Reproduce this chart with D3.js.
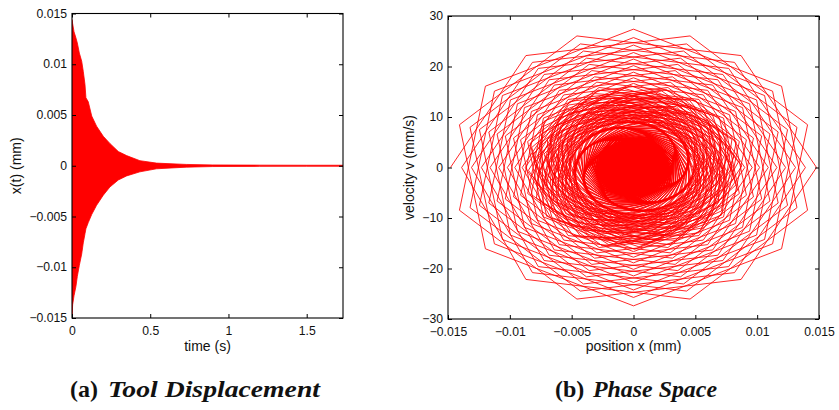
<!DOCTYPE html>
<html><head><meta charset="utf-8">
<script src="https://cdn.jsdelivr.net/npm/d3@7"></script>
<style>body{margin:0;background:#fff}svg{display:block}</style>
</head><body>
<svg id="c" width="839" height="410"></svg>
<script>
// ---------- (a) Tool displacement : envelope of the dense oscillation
const timeS   = [0, 0.004, 0.013, 0.025, 0.034, 0.047, 0.062, 0.072, 0.083, 0.089, 0.104, 0.126, 0.157, 0.2, 0.242, 0.296, 0.349, 0.434, 0.54, 0.73, 0.9, 1.2, 1.5, 1.732];
const upperMm = [0.0144, 0.0140, 0.0132, 0.0126, 0.0121, 0.0111, 0.0103, 0.0093, 0.0080, 0.0067, 0.0063, 0.0049, 0.0039, 0.0029, 0.0022, 0.0014, 0.0010, 0.0005, 0.00026, 0.00013, 0.00008, 0.00006, 0.00005, 0.00005];
const lowerMm = [-0.0150, -0.0137, -0.0128, -0.0119, -0.0109, -0.0098, -0.0087, -0.0076, -0.0067, -0.0062, -0.0056, -0.0048, -0.0039, -0.0029, -0.0021, -0.0014, -0.0010, -0.0006, -0.0003, -0.00014, -0.00008, -0.00006, -0.00005, -0.00005];
const timeTicks = [0, 0.5, 1, 1.5];
const dispTicks = [-0.015, -0.01, -0.005, 0, 0.005, 0.01, 0.015];

// ---------- (b) Phase space : trajectory sampled in passes
// amplitude of x for each pass (micrometres) and the phase advance between samples (deg)
const omegaRadS = 1851; // velocity amplitude / position amplitude
const passAmpUm = [14.8, 13.9, 13.1, 12.3, 11.6, 10.9, 10.2, 9.6, 9.0,
  8.75, 8.50, 8.26, 8.03, 7.81, 7.59, 7.38, 7.17, 6.97, 6.77, 6.58, 6.40, 6.22, 6.04, 5.87, 5.71, 5.55, 5.39, 5.24, 5.09,
  4.95, 4.81, 4.68, 4.55, 4.42, 4.30, 4.18, 4.06, 3.95, 3.84, 3.73, 3.62, 3.52, 3.42, 3.33, 3.23, 3.14, 3.05, 2.97, 2.89,
  2.81, 2.73, 2.65, 2.58, 2.50, 2.43, 2.37, 2.30, 2.24, 2.17, 2.11, 2.05, 2.00, 1.94, 1.89, 1.83, 1.78, 1.73, 1.68, 1.64,
  1.59, 1.55, 1.50, 1.46, 1.42, 1.38, 1.34, 1.30, 1.27, 1.23, 1.20, 1.17, 1.13, 1.10, 1.07, 1.04, 1.01, 0.98, 0.96, 0.93,
  0.90, 0.88, 0.85, 0.83, 0.81, 0.78, 0.76, 0.74, 0.72, 0.70, 0.68, 0.66, 0.64, 0.63, 0.61, 0.59, 0.57, 0.56, 0.54, 0.53,
  0.48, 0.43, 0.38, 0.33, 0.28, 0.23, 0.18, 0.13, 0.08, 0.04];
const passStepDeg = [54, 54, 54, 54, 54, 54, 54, 54, 54,
  53.9, 53.8, 53.7, 53.6, 53.5, 53.4, 53.3, 53.2, 53.1, 53.0, 52.9, 52.8, 52.7, 52.6, 52.5, 52.4, 52.3, 52.2, 52.1, 52.0,
  51.9, 51.85, 51.8, 51.76, 51.72, 51.68, 51.65, 51.62, 51.6, 51.58, 51.56, 51.54, 51.53, 51.52, 51.51, 51.5, 51.49, 51.48, 51.47, 51.46,
  51.46, 51.45, 51.45, 51.44, 51.44, 51.43, 51.43, 51.43, 51.42, 51.42, 51.42, 51.41, 51.41, 51.41, 51.41, 51.41, 51.41, 51.41, 51.41, 51.41,
  51.41, 51.41, 51.41, 51.41, 51.41, 51.41, 51.41, 51.41, 51.41, 51.41, 51.41, 51.41, 51.41, 51.41, 51.41, 51.41, 51.41, 51.41, 51.41, 51.41,
  51.41, 51.41, 51.41, 51.41, 51.41, 51.41, 51.41, 51.41, 51.41, 51.41, 51.41, 51.41, 51.41, 51.41, 51.41, 51.41, 51.41, 51.41, 51.41, 51.41,
  51.41, 51.41, 51.41, 51.41, 51.41, 51.41, 51.41, 51.41, 51.41, 51.41];
const densePassFrom = 42;       // core passes are recorded more densely
const samplesPerPass = 20;      // 20 samples = 3 cycles
const denseSamplesPerPass = 60;
const startPhaseDeg = 180;
const posTicks = [-0.015, -0.01, -0.005, 0, 0.005, 0.01, 0.015];
const velTicks = [-30, -20, -10, 0, 10, 20, 30];

const svg = d3.select("#c");
const RED = "#ff0000";
const fmt = d => d === 0 ? "0" : (d < 0 ? "\u2212" : "") + String(Math.abs(d));
const SANS = "Liberation Sans, Arial, sans-serif";

function frame(g, x, y, xt, yt, W, H) {
  const tk = 4;
  g.append("g").attr("transform", `translate(0,${H})`)
    .call(d3.axisBottom(x).tickValues(xt).tickFormat(fmt).tickSizeOuter(0).tickSizeInner(-tk).tickPadding(8.5));
  const ly = g.append("g").call(d3.axisLeft(y).tickValues(yt).tickFormat(fmt).tickSizeOuter(0).tickSizeInner(-tk).tickPadding(5));
  ly.selectAll(".tick text").attr("dy", "0.3em");
  g.append("g").call(d3.axisTop(x).tickValues(xt).tickFormat("").tickSizeOuter(0).tickSizeInner(-tk));
  g.append("g").attr("transform", `translate(${W},0)`)
    .call(d3.axisRight(y).tickValues(yt).tickFormat("").tickSizeOuter(0).tickSizeInner(-tk));
  g.selectAll(".domain").remove();
  g.selectAll(".tick line").attr("stroke", "#000").attr("stroke-width", 1);
  g.selectAll(".tick text").attr("font-family", SANS).attr("font-size", "12.2px").attr("fill", "#111");
  g.append("rect").attr("width", W).attr("height", H).attr("fill", "none")
    .attr("stroke", "#000").attr("stroke-width", 1.1);
}

// ---------- panel (a)
{
  const L = 72, T = 13.5, W = 343 - 72, H = 318 - 13.5;
  const g = svg.append("g").attr("transform", `translate(${L},${T})`);
  const x = d3.scaleLinear().domain([0, 1.732]).range([0, W]);
  const y = d3.scaleLinear().domain([-0.015, 0.015]).range([H, 0]);
  g.append("clipPath").attr("id", "ca").append("rect").attr("width", W).attr("height", H);
  const rows = timeS.map((t, i) => ({ t, hi: upperMm[i], lo: lowerMm[i] }));
  g.append("path").datum(rows).attr("clip-path", "url(#ca)")
    .attr("d", d3.area().x(d => x(d.t)).y0(d => y(d.lo)).y1(d => y(d.hi)))
    .attr("fill", RED).attr("stroke", RED).attr("stroke-width", 0.8);
  frame(g, x, y, timeTicks, dispTicks, W, H);
  g.append("text").attr("x", W / 2).attr("y", 351.3 - T).attr("text-anchor", "middle")
    .attr("font-family", SANS).attr("font-size", "14px").attr("fill", "#111").text("time (s)");
  g.append("text").attr("transform", `translate(${21 - L},${H / 2}) rotate(-90)`).attr("text-anchor", "middle")
    .attr("font-family", SANS).attr("font-size", "14px").attr("fill", "#111").text("x(t) (mm)");
}

// ---------- panel (b)
{
  const L = 448, T = 16, W = 819 - 448, H = 319 - 16;
  const g = svg.append("g").attr("transform", `translate(${L},${T})`);
  const x = d3.scaleLinear().domain([-0.015, 0.015]).range([0, W]);
  const y = d3.scaleLinear().domain([-30, 30]).range([H, 0]);
  g.append("clipPath").attr("id", "cb").append("rect").attr("width", W).attr("height", H);
  const pts = [];
  let ph = startPhaseDeg;
  passAmpUm.forEach((a, k) => {
    const ax = a / 1000;
    const n = k < densePassFrom ? samplesPerPass : denseSamplesPerPass;
    for (let s = 0; s < n; s++) {
      const th = ph * Math.PI / 180;
      pts.push([ax * Math.cos(th), ax * omegaRadS * Math.sin(th)]);
      ph -= passStepDeg[k];
    }
  });
  g.append("path").datum(pts).attr("clip-path", "url(#cb)")
    .attr("d", d3.line().x(d => x(d[0])).y(d => y(d[1])))
    .attr("fill", "none").attr("stroke", RED).attr("stroke-width", 0.85).attr("stroke-linejoin", "miter");
  frame(g, x, y, posTicks, velTicks, W, H);
  g.append("text").attr("x", W / 2).attr("y", 351.3 - T).attr("text-anchor", "middle")
    .attr("font-family", SANS).attr("font-size", "14px").attr("fill", "#111").text("position x (mm)");
  g.append("text").attr("transform", `translate(${414 - L},${H / 2}) rotate(-90)`).attr("text-anchor", "middle")
    .attr("font-family", SANS).attr("font-size", "14px").attr("fill", "#111").text("velocity v (mm/s)");
}

// ---------- captions
function caption(x0, tag, title, titleX, titleLen) {
  const t = svg.append("g").attr("font-family", "Liberation Serif, Times New Roman, serif")
    .attr("font-weight", "bold").attr("font-size", "24px").attr("fill", "#111");
  t.append("text").attr("x", x0).attr("y", 397).text(tag);
  t.append("text").attr("x", titleX).attr("y", 397).attr("font-style", "italic")
    .attr("textLength", titleLen).attr("lengthAdjust", "spacingAndGlyphs").text(title);
}
caption(70, "(a)", "Tool Displacement", 108, 212);
caption(555, "(b)", "Phase Space", 593, 124);
</script>
</body></html>
